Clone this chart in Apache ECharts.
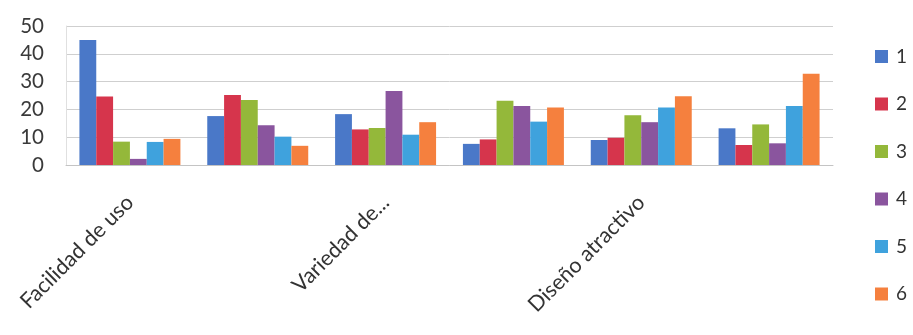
<!DOCTYPE html>
<html>
<head>
<meta charset="utf-8">
<script src="https://cdn.jsdelivr.net/npm/echarts@6/dist/echarts.min.js"></script>
<style>
  html, body { margin: 0; padding: 0; background: #fff; }
  #chart { width: 913px; height: 335px; }
</style>
</head>
<body>
<div id="chart"></div>
<script>
// Categories (only every other name is printed on the axis)
const categories = ['Facilidad de uso', '', 'Variedad de...', '', 'Diseño atractivo', ''];
const seriesNames = ['1', '2', '3', '4', '5', '6'];

// Values per rating (one array per series, one value per category)
const rating1 = [45, 17.6, 18.3, 7.6, 9, 13.2];
const rating2 = [24.6, 25.2, 12.8, 9.2, 9.8, 7.2];
const rating3 = [8.4, 23.4, 13.3, 23.1, 17.9, 14.6];
const rating4 = [2.2, 14.3, 26.6, 21.2, 15.4, 7.8];
const rating5 = [8.3, 10.2, 10.9, 15.6, 20.7, 21.2];
const rating6 = [9.4, 6.9, 15.4, 20.7, 24.7, 32.8];

const yTicks = [0, 10, 20, 30, 40, 50];

const values = [rating1, rating2, rating3, rating4, rating5, rating6];
const colors = ['#4a78c8', '#d6354c', '#94b83a', '#8a559e', '#3fa2dd', '#f5803e'];
const font = 'Lato, "Open Sans", sans-serif';

const chart = echarts.init(document.getElementById('chart'), null, { renderer: 'canvas' });
chart.setOption({
  animation: false,
  color: colors,
  textStyle: { fontFamily: font },
  grid: { left: 66, right: 80, top: 26, bottom: 170, containLabel: false },
  legend: {
    orient: 'vertical',
    left: 870,
    top: 42,
    itemWidth: 13,
    itemHeight: 13,
    itemGap: 28.5,
    icon: 'rect',
    textStyle: { fontSize: 19, color: '#333', fontFamily: font, padding: [0, 0, 0, 3] },
    data: seriesNames
  },
  xAxis: {
    type: 'category',
    data: categories,
    axisLine: { show: true, lineStyle: { color: '#c4c4c4', width: 1 } },
    axisTick: { show: false },
    axisLabel: {
      interval: 0,
      rotate: 45,
      margin: 34,
      fontSize: 21.5,
      color: '#333',
      fontFamily: font
    }
  },
  yAxis: {
    type: 'value',
    min: yTicks[0],
    max: yTicks[yTicks.length - 1],
    interval: 10,
    axisLine: { show: true, lineStyle: { color: '#e0e0e0' } },
    axisTick: { show: false },
    splitLine: { lineStyle: { color: '#cfcfcf', width: 1 } },
    axisLabel: { fontSize: 20.5, color: '#3a3a3a', margin: 22, fontFamily: font }
  },
  series: seriesNames.map((name, i) => ({
    name: name,
    type: 'bar',
    data: values[i],
    barGap: '0%',
    barCategoryGap: '21%'
  }))
});
</script>
</body>
</html>
